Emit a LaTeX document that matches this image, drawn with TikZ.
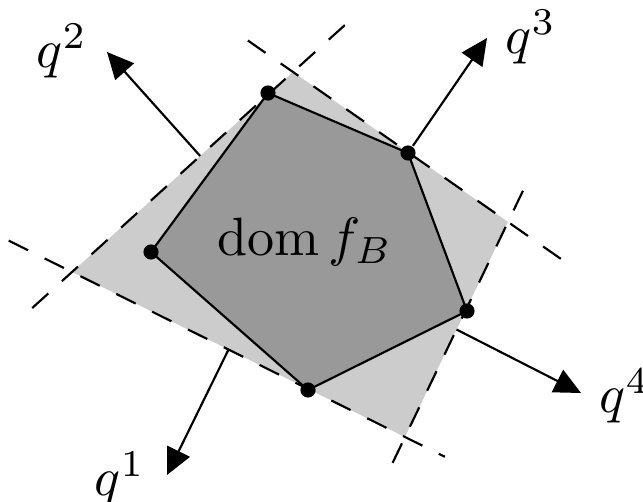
\documentclass[tikz,border=0pt]{standalone}
\usepackage{amsmath}
\usetikzlibrary{calc,arrows.meta}
\tikzset{
	face/.style={dash pattern=on 4pt off 3.4pt},
	normal/.style={-{Triangle[length=4.9pt,width=4.6pt]}},
	vertex/.style={circle, fill, inner sep=0pt, minimum size=2.8pt},
}
\begin{document}
\begin{tikzpicture}[x=18.5pt, y=18.5pt]
	\useasboundingbox (0,0) rectangle (6.43,5.01);
	% outer box
	\coordinate (L) at (0.72,2.29);
	\coordinate (T) at (2.93,4.29);
	\coordinate (R) at (5.08,2.79);
	\coordinate (B) at (4.05,0.64);
	\fill[black!20] (L) -- (T) -- (R) -- (B) -- cycle;
	\draw[face] ($(L)!-0.18!(T)$) -- ($(T)!-0.29!(L)$);
	\draw[face] ($(T)!-0.21!(R)$) -- ($(R)!-0.27!(T)$);
	\draw[face] ($(R)!-0.145!(B)$) -- ($(B)!-0.155!(R)$);
	\draw[face] ($(L)!-0.19!(B)$) -- ($(B)!-0.12!(L)$);
	% domain
	\coordinate (v1) at (1.51,2.49);
	\coordinate (v2) at (2.68,4.08);
	\coordinate (v3) at (4.08,3.48);
	\coordinate (v4) at (4.67,1.90);
	\coordinate (v5) at (3.08,1.11);
	\filldraw[fill=black!40] (v1) -- (v2) -- (v3) -- (v4) -- (v5) -- cycle;
	\node[vertex] (p1) at (v1) {};
	\node[vertex] (p2) at (v2) {};
	\node[vertex] (p3) at (v3) {};
	\node[vertex] (p4) at (v4) {};
	\node[vertex] (p5) at (v5) {};
	\node[anchor=base] (dom) at (3.05,2.46) {$\operatorname{dom} f_B$};
	% normals
	\coordinate (s1) at ($(L)!0.47!(B)$);
	\coordinate (s2) at ($(L)!0.58!(T)$);
	\coordinate (s4) at ($(R)!0.5!(B)$);
	\coordinate (t1) at (1.67,0.26);
	\coordinate (t2) at (1.07,4.49);
	\coordinate (t3) at (4.87,4.63);
	\coordinate (t4) at (5.81,1.08);
	\draw[normal] (s1) -- (t1);
	\draw[normal] (s2) -- (t2);
	\draw[normal] (p3) -- (t3);
	\draw[normal] (s4) -- (t4);
	\node (q1) at (1.20,0.22) {$q^1$};
	\node (q2) at (0.62,4.50) {$q^2$};
	\node (q3) at (5.31,4.64) {$q^3$};
	\node (q4) at (6.25,1.05) {$q^4$};
\end{tikzpicture}
\end{document}
